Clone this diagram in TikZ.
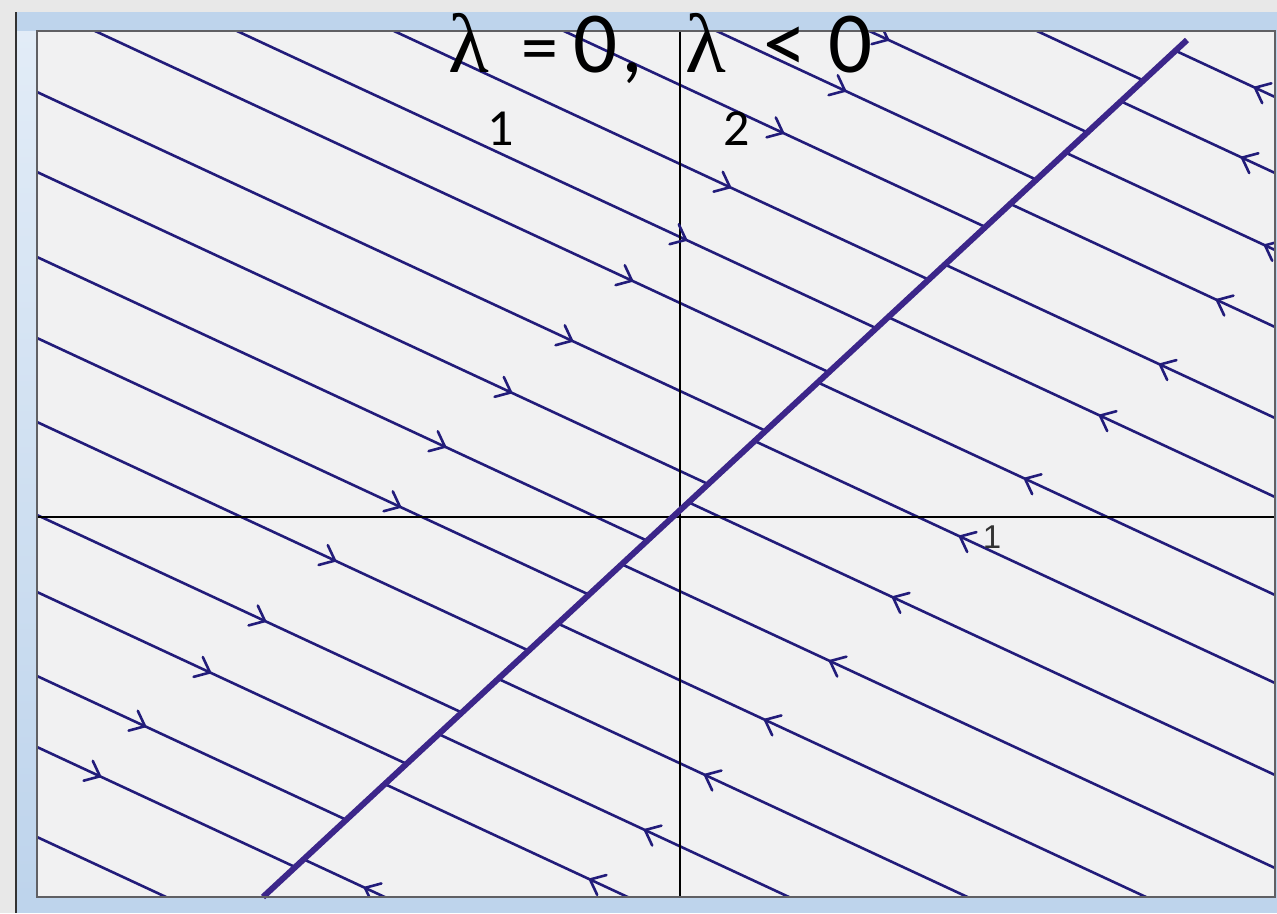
\documentclass[tikz,border=0pt]{standalone}
\usepackage{fontspec}
\newfontfamily\calfont{Carlito}
\newfontfamily\serfont{Liberation Serif}
\newfontfamily\sansfont{Liberation Sans}
\definecolor{trajc}{RGB}{34,28,122}
\definecolor{diagc}{RGB}{60,38,138}
\definecolor{plotbg}{RGB}{241,241,242}
\definecolor{outerbg}{RGB}{232,232,232}
\definecolor{framebl}{RGB}{190,212,236}
\definecolor{framepale}{RGB}{226,236,247}
\definecolor{boxline}{RGB}{96,96,100}
\tikzset{
  traj/.style={draw=trajc, line width=2.6pt, line cap=round, line join=round},
  diagline/.style={draw=diagc, line width=6pt},
  axisline/.style={draw=black, line width=2pt},
  titletext/.style={inner sep=0pt, anchor=base, text=black},
}
\newcommand\arwL[2]{\draw[traj] ({#1},{#2+0.465*(#1-37)}) +(164.94:17) -- ({#1},{#2+0.465*(#1-37)}) -- +(244.94:17);}
\newcommand\arwR[2]{\draw[traj] ({#1},{#2-0.465*(1275-#1)}) +(-15.06:17) -- ({#1},{#2-0.465*(1275-#1)}) -- +(64.94:17);}
\begin{document}
\begin{tikzpicture}[x=1pt,y=-1pt]
\useasboundingbox (0,0) rectangle (1277,913);
% outer background and window frame
\fill[outerbg] (0,0) rectangle (1277,913);
\fill[framebl] (16,12) rectangle (1277,913);
\shade[top color=framepale, bottom color=framebl] (17,30) rectangle (37,900);
\fill[framebl] (17,12) rectangle (1277,31);
\draw[black!80, line width=2pt] (16,12) -- (16,913);
% plot area
\fill[plotbg] (37,31) rectangle (1275,897);
\begin{scope}
  \clip (37,31) -- (1196.7,31) -- (263,897) -- (37,897) -- cycle;
  \foreach \y in {837,747,676,592,515,422,338,257,172,92,4,-62,-135,-214,-285,-356,-434}
    \draw[traj] (37,\y) -- ++(1240,576.6);
\end{scope}
\begin{scope}
  \clip (1196.7,31) -- (1275,31) -- (1275,897) -- (263,897) -- cycle;
  \foreach \y in {97,173,250,327,418,497,595,683,775,868,957,1040,1123,1198,1311}
    \draw[traj] (1275,\y) -- ++(-1240,-576.6);
\end{scope}
% axes
\draw[axisline] (37,517) -- (1275,517);
\draw[axisline] (680,31) -- (680,897);
% arrows
\begin{scope}
  \clip (37,31) rectangle (1275,897);
  \arwL{845}{-285}\arwL{888}{-356}\arwL{783}{-214}\arwL{730}{-135}
  \arwL{686}{-62}\arwL{632}{4}\arwL{572}{92}\arwL{511}{172}
  \arwL{445}{257}\arwL{400}{338}\arwL{335}{422}\arwL{265}{515}
  \arwL{210}{592}\arwL{145}{676}\arwL{100}{747}
  \arwR{1255}{97}\arwR{1242}{173}\arwR{1265}{250}\arwR{1217}{327}
  \arwR{1160}{418}\arwR{1100}{497}\arwR{1025}{595}\arwR{960}{683}
  \arwR{893}{775}\arwR{830}{868}\arwR{765}{957}\arwR{705}{1040}
  \arwR{645}{1123}\arwR{590}{1198}\arwR{365}{1311}
\end{scope}
% diagonal line of equilibria
\draw[diagline] (263,897) -- (1187,40);
% plot border
\draw[boxline, line width=1.8pt] (37,31) rectangle (1275,897);
% tick label
\node[inner sep=0pt, anchor=base, text=black!80] (one) at (992,548) {\sansfont\fontsize{33}{33}\selectfont 1};
% title
\node[titletext] (lamA) at (469,72) {\serfont\fontsize{84}{84}\selectfont λ};
\node[titletext] (eqs) at (540,72) {\calfont\fontsize{74}{74}\selectfont =};
\node[titletext] (zeroA) at (596,72) {\calfont\fontsize{87}{87}\selectfont 0};
\node[titletext] (comma) at (632,72) {\calfont\fontsize{87}{87}\selectfont ,};
\node[titletext] (lamB) at (706,72) {\serfont\fontsize{84}{84}\selectfont λ};
\node[titletext] (lt) at (785,72) {\calfont\fontsize{87}{87}\selectfont <};
\node[titletext] (zeroB) at (851,72) {\calfont\fontsize{87}{87}\selectfont 0};
\node[titletext] (subA) at (501,145) {\calfont\fontsize{52}{52}\selectfont 1};
\node[titletext] (subB) at (737,145) {\calfont\fontsize{52}{52}\selectfont 2};
\end{tikzpicture}
\end{document}
